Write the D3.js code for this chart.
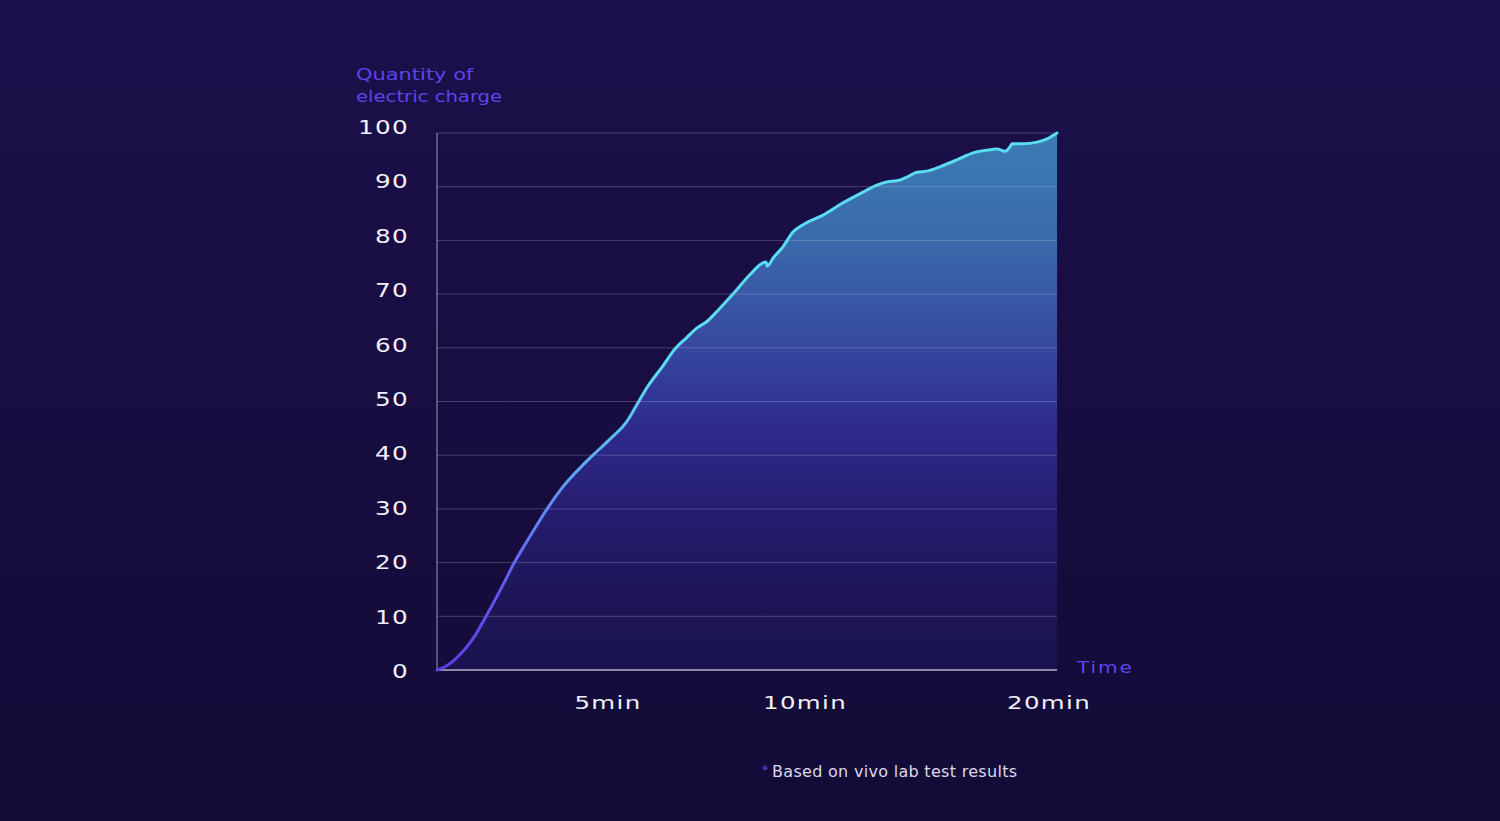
<!DOCTYPE html>
<html>
<head>
<meta charset="utf-8">
<script src="https://cdn.jsdelivr.net/npm/d3@7"></script>
<style>
html,body{margin:0;padding:0;background:#170e42;overflow:hidden;}
svg{display:block;}
</style>
</head>
<body>
<svg id="chart" width="1500" height="821"></svg>
<script>
// ---- data ----
const minutes = [0,0.23,0.53,0.82,1.11,1.40,1.70,1.99,2.22,2.72,3.22,3.68,4.24,4.56,5.05,5.48,5.74,5.99,6.40,6.70,7.01,7.26,7.51,7.77,8.17,8.60,8.93,9.01,9.04,9.19,9.44,9.70,9.95,10.74,11.56,12.38,12.95,13.36,13.77,14.18,14.59,15.00,15.53,16.23,16.89,17.46,17.87,18.20,18.40,18.48,18.93,19.51,19.92,20.33];
const charge  = [0,0.6,2.0,3.9,6.4,9.6,13.1,16.6,19.5,24.9,30.0,34.1,38.0,40.0,43.0,46.3,49.5,52.6,56.7,59.8,62.0,63.7,64.9,66.8,70.0,73.6,75.8,76.0,75.2,76.7,78.8,81.6,82.9,84.7,87.0,89.0,90.3,90.9,91.1,91.8,92.7,92.9,93.7,95.0,96.3,96.8,97.0,96.6,97.4,98.0,98.0,98.3,98.9,100];
const yTicks = [0,10,20,30,40,50,60,70,80,90,100];
const xTicks = [5,10,20];
const xTickLabels = ["5min","10min","20min"];
const yTitle = ["Quantity of","electric charge"];
const xTitle = "Time";
const footnote = "Based on vivo lab test results";

const data = minutes.map((t,i)=>({t, v: charge[i]}));

const svg = d3.select("#chart");
const W = 1500, H = 821;

const defs = svg.append("defs");
const bg = defs.append("linearGradient").attr("id","bg").attr("x1",0).attr("y1",0).attr("x2",0).attr("y2",1);
bg.append("stop").attr("offset",0).attr("stop-color","#1b104a");
bg.append("stop").attr("offset",1).attr("stop-color","#130b37");
svg.append("rect").attr("width",W).attr("height",H).attr("fill","url(#bg)");

// scales (time axis is non-linear in the reference: piecewise)
const x = d3.scaleLinear().domain([0,5,10,20]).range([437,608,805,1049]);
const y = d3.scaleLinear().domain([0,100]).range([670,133]);
const yLabel = d3.scaleLinear().domain([0,100]).range([671,127]);
const xEnd = x(d3.max(minutes));

// gradients
const fillG = defs.append("linearGradient").attr("id","fillG").attr("gradientUnits","userSpaceOnUse")
  .attr("x1",0).attr("y1",y(100)).attr("x2",0).attr("y2",y(0));
[[0,"#3b7cb3"],[0.2,"#3a6aab"],[0.4,"#36489f"],[0.55,"#2e2b8d"],[0.7,"#251d70"],[0.85,"#1e1659"],[1,"#1a1350"]]
  .forEach(([o,c])=>fillG.append("stop").attr("offset",o).attr("stop-color",c));

const lineG = defs.append("linearGradient").attr("id","lineG").attr("gradientUnits","userSpaceOnUse")
  .attr("x1",0).attr("y1",y(0)).attr("x2",0).attr("y2",y(55));
[[0,"#5a3fe6"],[0.35,"#6560f2"],[0.7,"#5faaf2"],[1,"#5adcf2"]]
  .forEach(([o,c])=>lineG.append("stop").attr("offset",o).attr("stop-color",c));

// area
const area = d3.area().x(d=>x(d.t)).y0(y(0)).y1(d=>y(d.v)).curve(d3.curveMonotoneX);
svg.append("path").datum(data).attr("d",area).attr("fill","url(#fillG)");

// gridlines
svg.append("g").selectAll("line").data(yTicks.filter(d=>d>0)).join("line")
  .attr("x1",x(0)).attr("x2",xEnd).attr("y1",d=>y(d)).attr("y2",d=>y(d))
  .attr("stroke","rgba(200,190,235,0.28)").attr("stroke-width",1);

// axes lines
svg.append("line").attr("x1",x(0)).attr("x2",x(0)).attr("y1",y(100)).attr("y2",y(0))
  .attr("stroke","rgba(210,205,235,0.55)").attr("stroke-width",1.3);
svg.append("line").attr("x1",x(0)).attr("x2",xEnd).attr("y1",y(0)).attr("y2",y(0))
  .attr("stroke","#b4aecb").attr("stroke-width",1.5);

// line
const line = d3.line().x(d=>x(d.t)).y(d=>y(d.v)).curve(d3.curveMonotoneX);
svg.append("path").datum(data).attr("d",line).attr("fill","none")
  .attr("stroke","url(#lineG)").attr("stroke-width",3).attr("stroke-linejoin","round").attr("stroke-linecap","round");

const font = "'DejaVu Sans', sans-serif";

// y tick labels
svg.append("g").selectAll("text").data(yTicks).join("text")
  .attr("transform",d=>`translate(409,${yLabel(d)+7}) scale(1.3,1)`)
  .attr("text-anchor","end").attr("fill","#f2f0fa")
  .attr("font-family",font).attr("font-size",19).attr("letter-spacing",1)
  .text(d=>d);

// x tick labels
svg.append("g").selectAll("text").data(xTicks).join("text")
  .attr("transform",d=>`translate(${x(d)},709) scale(1.36,1)`)
  .attr("text-anchor","middle").attr("fill","#f2f0fa")
  .attr("font-family",font).attr("font-size",18).attr("letter-spacing",1)
  .text((d,i)=>xTickLabels[i]);

// y title
svg.append("g").selectAll("text").data(yTitle).join("text")
  .attr("transform",(d,i)=>`translate(356,${80+i*21.5}) scale(${i===0?1.27:1.19},1)`)
  .attr("fill","#5b46ee").attr("font-family",font).attr("font-size",16.5)
  .text(d=>d);

// x title
svg.append("text").attr("transform","translate(1077,673) scale(1.26,1)")
  .attr("fill","#5b46ee").attr("font-family",font).attr("font-size",16).attr("letter-spacing",1.5)
  .text(xTitle);

// footnote
svg.append("text").attr("x",762).attr("y",774)
  .attr("fill","#5b46ee").attr("font-family",font).attr("font-size",12).text("*");
svg.append("text").attr("x",772).attr("y",777)
  .attr("fill","#dcd8ea").attr("font-family",font).attr("font-size",16).attr("letter-spacing",0.3)
  .text(footnote);
</script>
</body>
</html>
